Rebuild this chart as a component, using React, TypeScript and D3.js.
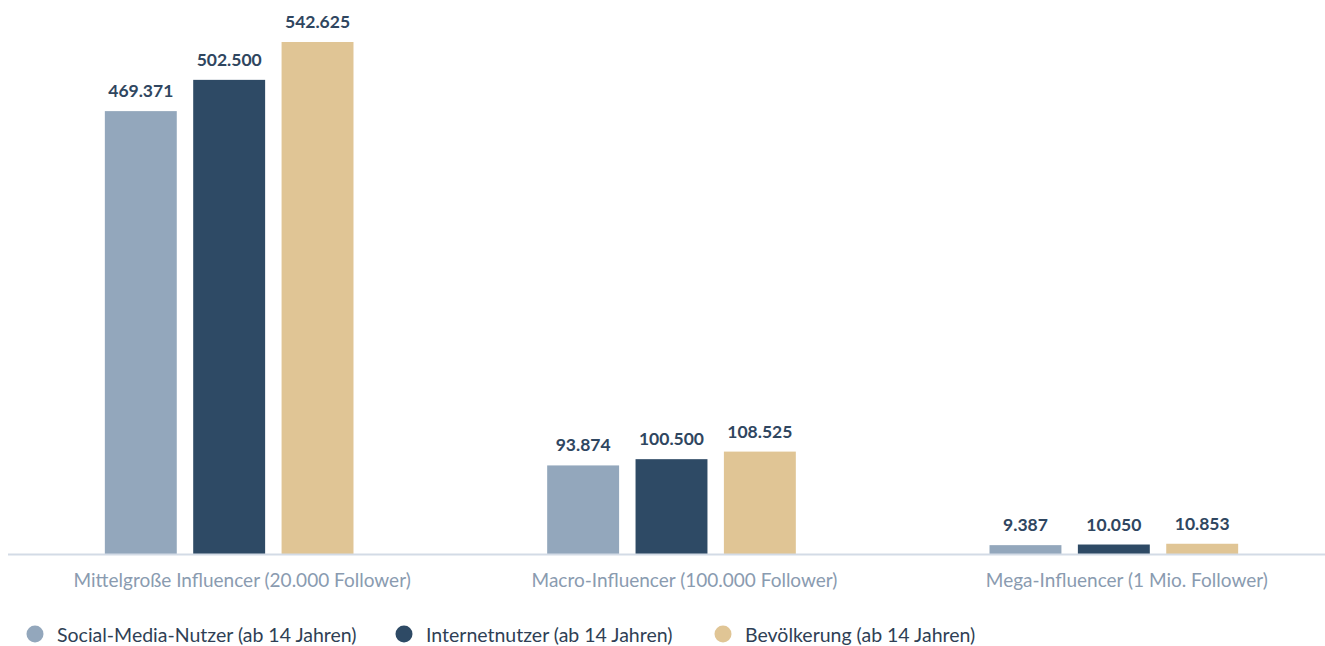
import React from "react";
import * as d3 from "d3";

const categories = [
  "Mittelgroße Influencer (20.000 Follower)",
  "Macro-Influencer (100.000 Follower)",
  "Mega-Influencer (1 Mio. Follower)",
];
const seriesNames = [
  "Social-Media-Nutzer (ab 14 Jahren)",
  "Internetnutzer (ab 14 Jahren)",
  "Bevölkerung (ab 14 Jahren)",
];
const seriesColors = ["#93a7bc", "#2e4a65", "#e0c595"];
const socialMedia = [469371, 93874, 9387];
const internet = [502500, 100500, 10050];
const bevoelkerung = [542625, 108525, 10853];
const seriesValues = [socialMedia, internet, bevoelkerung];

const W = 1325;
const H = 646;
const FONT = "Lato, 'Source Sans Pro', sans-serif";

const fmt = (v: number) => d3.format(",")(v).replace(/,/g, ".");

export default function App() {
  const x0 = d3.scaleBand<string>().domain(categories).range([8, 1335]).paddingInner(0).paddingOuter(0);
  const x1 = d3
    .scaleBand<string>()
    .domain(seriesNames)
    .range([0, x0.bandwidth()])
    .paddingInner(0.186)
    .paddingOuter(1.096);
  const y = d3.scaleLinear().domain([0, 542625]).range([554, 42]);
  const legendX = [26, 395, 714];

  return (
    <svg
      width={W}
      height={H}
      style={{ position: "absolute", left: 0, top: 0, background: "#fff" }}
      fontFamily={FONT}
    >
      {categories.map((c, ci) => (
        <g key={c} transform={`translate(${x0(c)},0)`}>
          {seriesNames.map((s, si) => {
            const v = seriesValues[si][ci];
            const bx = x1(s)!;
            return (
              <g key={s}>
                <rect
                  x={bx}
                  y={y(v)}
                  width={x1.bandwidth()}
                  height={554 - y(v)}
                  fill={seriesColors[si]}
                />
                <text
                  x={bx + x1.bandwidth() / 2}
                  y={y(v) - 14}
                  textAnchor="middle"
                  fontSize={17.5}
                  fontWeight={700}
                  fill="#2f4660"
                >
                  {fmt(v)}
                </text>
              </g>
            );
          })}
          <text
            x={x0.bandwidth() / 2 + 13}
            y={587}
            textAnchor="middle"
            fontSize={19}
            fill="#8a9bb0"
          >
            {c}
          </text>
        </g>
      ))}
      <line x1={8} x2={W} y1={554.5} y2={554.5} stroke="#d3dbe6" strokeWidth={2} />
      {seriesNames.map((s, si) => (
        <g key={s} transform={`translate(${legendX[si]},0)`}>
          <circle cx={9} cy={634} r={8.5} fill={seriesColors[si]} />
          <text x={31} y={642} fontSize={19.5} fill="#2f3f55">
            {s}
          </text>
        </g>
      ))}
    </svg>
  );
}
